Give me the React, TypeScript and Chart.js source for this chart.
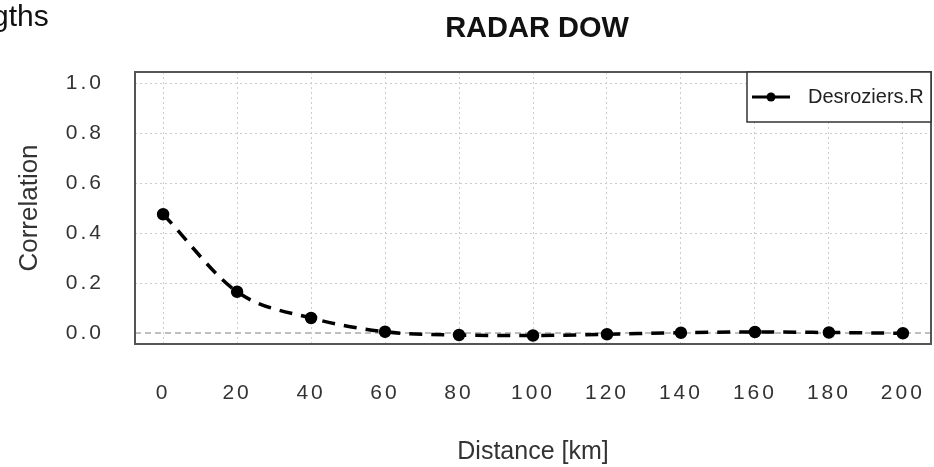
import React, { useEffect, useRef } from "react";
import { Chart, registerables } from "chart.js";

Chart.register(...registerables);

// ---- data ----
const distances: number[] = [0, 20, 40, 60, 80, 100, 120, 140, 160, 180, 200];
const correlation: number[] = [0.475, 0.165, 0.06, 0.005, -0.008, -0.01, -0.005, 0.001, 0.004, 0.002, -0.001];
const seriesLabel = "Desroziers.R";
const xTickValues: number[] = [0, 20, 40, 60, 80, 100, 120, 140, 160, 180, 200];
const yTickValues: number[] = [0, 0.2, 0.4, 0.6, 0.8, 1.0];
const chartTitle = "RADAR DOW";
const xAxisTitle = "Distance [km]";
const yAxisTitle = "Correlation";
const cornerText = "gths";

const FONT = "'Liberation Sans', Arial, Helvetica, sans-serif";
const TICK_SPACING = "3px";

const decorPlugin = {
  id: "decor",
  afterLayout(chart: any) {
    ["x", "y"].forEach((id) => {
      const s = chart.scales[id];
      if (!s || s.__wrapped) return;
      const orig = s.drawLabels;
      s.drawLabels = function (area: any) {
        const ctx = this.ctx;
        ctx.save();
        (ctx as any).letterSpacing = TICK_SPACING;
        orig.call(this, area);
        ctx.restore();
      };
      s.__wrapped = true;
    });
  },
  beforeDatasetsDraw(chart: any) {
    const { ctx, chartArea } = chart;
    const y = chart.scales.y.getPixelForValue(0);
    ctx.save();
    ctx.strokeStyle = "#aaaaaa";
    ctx.lineWidth = 1.5;
    ctx.setLineDash([6, 4]);
    ctx.beginPath();
    ctx.moveTo(chartArea.left, y);
    ctx.lineTo(chartArea.right, y);
    ctx.stroke();
    ctx.restore();
  },
  afterDraw(chart: any) {
    const { ctx, chartArea } = chart;
    ctx.save();
    (ctx as any).letterSpacing = "0px";
    // frame
    ctx.strokeStyle = "#555555";
    ctx.lineWidth = 2;
    ctx.setLineDash([]);
    ctx.strokeRect(chartArea.left, chartArea.top, chartArea.right - chartArea.left, chartArea.bottom - chartArea.top);

    // legend box
    const lx = 747;
    const ly = chartArea.top;
    const lw = chartArea.right - lx;
    const lh = 50;
    ctx.fillStyle = "#ffffff";
    ctx.fillRect(lx, ly, lw, lh);
    ctx.strokeStyle = "#333333";
    ctx.lineWidth = 1.5;
    ctx.strokeRect(lx, ly, lw, lh);
    const cy = ly + lh / 2;
    ctx.strokeStyle = "#000";
    ctx.lineWidth = 3;
    ctx.beginPath();
    ctx.moveTo(752, cy);
    ctx.lineTo(790, cy);
    ctx.stroke();
    ctx.fillStyle = "#000";
    ctx.beginPath();
    ctx.arc(771, cy, 4.5, 0, Math.PI * 2);
    ctx.fill();
    ctx.fillStyle = "#222";
    ctx.font = `20px ${FONT}`;
    ctx.textAlign = "left";
    ctx.textBaseline = "middle";
    ctx.fillText(seriesLabel, 808, cy);

    // title
    ctx.fillStyle = "#111";
    ctx.font = `bold 29px ${FONT}`;
    ctx.textAlign = "center";
    ctx.textBaseline = "alphabetic";
    ctx.fillText(chartTitle, (chartArea.left + chartArea.right) / 2 + 4, 37);

    // corner text
    ctx.font = `30px ${FONT}`;
    ctx.textAlign = "left";
    ctx.fillText(cornerText, -8, 26);
    ctx.restore();
  },
};

export default function App() {
  const ref = useRef<HTMLCanvasElement | null>(null);
  useEffect(() => {
    if (!ref.current) return;
    const chart = new Chart(ref.current, {
      type: "line",
      data: {
        datasets: [
          {
            label: seriesLabel,
            data: distances.map((d, i) => ({ x: d, y: correlation[i] })),
            borderColor: "#000",
            backgroundColor: "#000",
            borderWidth: 3.5,
            borderDash: [13, 9],
            cubicInterpolationMode: "monotone",
            pointRadius: 4.5,
            pointBackgroundColor: "#000",
            pointBorderColor: "#000",
            fill: false,
          },
        ],
      },
      options: {
        animation: false,
        responsive: false,
        maintainAspectRatio: false,
        layout: { autoPadding: false, padding: { left: 0, top: 72, right: 3, bottom: 0 } },
        plugins: { legend: { display: false }, title: { display: false }, tooltip: { enabled: false } },
        scales: {
          x: {
            type: "linear",
            min: -7.6,
            max: 207.6,
            afterBuildTicks: (s: any) => {
              s.ticks = xTickValues.map((v) => ({ value: v }));
            },
            afterFit: (s: any) => {
              s.height = 123;
              s.paddingLeft = 0;
              s.paddingRight = 0;
            },
            ticks: {
              padding: 37,
              color: "#333",
              font: { family: FONT, size: 21 },
              maxRotation: 0,
              autoSkip: false,
              callback: (v: any) => String(v),
            },
            grid: { color: "#cccccc", lineWidth: 1, drawTicks: false },
            border: { display: false, dash: [2, 3] },
            title: {
              display: true,
              text: xAxisTitle,
              color: "#333",
              font: { family: FONT, size: 25 },
              padding: 0,
            },
          },
          y: {
            type: "linear",
            min: -0.044,
            max: 1.044,
            afterBuildTicks: (s: any) => {
              s.ticks = yTickValues.map((v) => ({ value: v }));
            },
            afterFit: (s: any) => {
              s.width = 135;
              s.paddingTop = 0;
              s.paddingBottom = 0;
            },
            ticks: {
              padding: 31,
              color: "#333",
              font: { family: FONT, size: 21 },
              autoSkip: false,
              callback: (v: any) => Number(v).toFixed(1),
            },
            grid: {
              color: (c: any) => (c.tick && Math.abs(c.tick.value) < 1e-9 ? "rgba(0,0,0,0)" : "#cccccc"),
              lineWidth: 1,
              drawTicks: false,
            },
            border: { display: false, dash: [2, 3] },
            title: {
              display: true,
              text: yAxisTitle,
              color: "#333",
              font: { family: FONT, size: 26 },
              padding: { top: 14, bottom: 0 },
            },
          },
        },
      },
      plugins: [decorPlugin],
    } as any);
    return () => chart.destroy();
  }, []);
  return (
    <div style={{ position: "fixed", left: 0, top: 0, width: 934, height: 467, background: "#fff" }}>
      <canvas ref={ref} width={934} height={467} style={{ display: "block" }} />
    </div>
  );
}
